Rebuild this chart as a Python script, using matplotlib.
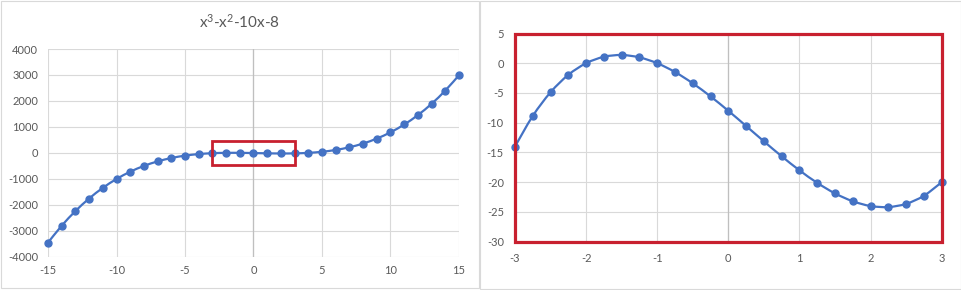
import matplotlib
matplotlib.use("Agg")
import matplotlib.pyplot as plt
import numpy as np
from matplotlib.path import Path
from matplotlib.patches import PathPatch, Rectangle

# data
x_wide = list(range(-15, 16))
y_wide = [-3458, -2808, -2244, -1760, -1350, -1008, -728, -504, -330, -200,
          -108, -48, -14, 0, 0, -8, -18, -24, -20, 0,
          42, 112, 216, 360, 550, 792, 1092, 1456, 1890, 2400, 2992]

x_zoom = [-3, -2.75, -2.5, -2.25, -2, -1.75, -1.5, -1.25, -1, -0.75, -0.5, -0.25,
          0, 0.25, 0.5, 0.75, 1, 1.25, 1.5, 1.75, 2, 2.25, 2.5, 2.75, 3]
y_zoom = [-14, -8.86, -4.88, -1.95, 0, 1.08, 1.38, 0.98, 0, -1.48, -3.38, -5.58,
          -8, -10.55, -13.13, -15.64, -18, -20.11, -21.88, -23.2, -24, -24.17,
          -23.63, -22.27, -20]

title = "x$^3$-x$^2$-10x-8"
box_x = [-3, 3]
box_y = [-450, 450]

blue = "#4472C4"
red = "#C8202F"
grid = "#D9D9D9"
txt = "#595959"

plt.rcParams['font.family'] = ['Lato', 'DejaVu Sans']
plt.rcParams['axes.unicode_minus'] = False
plt.rcParams['mathtext.default'] = 'regular'


def smooth_line(ax, xs, ys):
    #catmull-rom style bezier, like excel's smoothed line
    pts = np.column_stack([xs, ys]).astype(float)
    verts = [pts[0]]
    codes = [Path.MOVETO]
    t = 1 / 6
    for i in range(len(pts) - 1):
        p0 = pts[i - 1] if i > 0 else pts[i]
        p1 = pts[i]
        p2 = pts[i + 1]
        p3 = pts[i + 2] if i + 2 < len(pts) else pts[i + 1]
        c1 = p1 + (p2 - p0) * t
        c2 = p2 - (p3 - p1) * t
        verts += [c1, c2, p2]
        codes += [Path.CURVE4] * 3
    ax.add_patch(PathPatch(Path(verts, codes), fill=False, edgecolor=blue,
                           linewidth=1.6, zorder=3))
    ax.plot(xs, ys, linestyle='none', marker='o', markersize=5,
            color=blue, zorder=4, clip_on=False)


def style(ax):
    for s in ax.spines.values():
        s.set_visible(False)
    ax.grid(True, color=grid, linewidth=0.8)
    ax.set_axisbelow(True)
    ax.tick_params(length=0, labelsize=8, labelcolor=txt)
    ax.axvline(0, color="#BFBFBF", linewidth=0.9, zorder=1)


fig = plt.figure(figsize=(9.62, 2.90), dpi=100)

# panel borders
fig.patches.append(Rectangle((1 / 962, 2 / 290), 478 / 962, 287 / 290,
                             transform=fig.transFigure, fill=False,
                             edgecolor=grid, linewidth=0.8))
fig.patches.append(Rectangle((480 / 962, 1 / 290), 481 / 962, 288 / 290,
                             transform=fig.transFigure, fill=False,
                             edgecolor=grid, linewidth=0.8))

# left: full range
ax1 = fig.add_axes([48 / 962, 1 - 256.7 / 290, 411 / 962, 207.7 / 290])
style(ax1)
ax1.set_xlim(-15, 15)
ax1.set_ylim(-4000, 4000)
ax1.set_xticks(range(-15, 16, 5))
ax1.set_yticks(range(-4000, 4001, 1000))
ax1.tick_params(axis='y', pad=7)
ax1.tick_params(axis='x', pad=6)
smooth_line(ax1, x_wide, y_wide)
ax1.add_patch(Rectangle((box_x[0], box_y[0]), box_x[1] - box_x[0],
                        box_y[1] - box_y[0], fill=False, edgecolor=red,
                        linewidth=2.0, zorder=5))
fig.text(240 / 962, 1 - 22 / 290, title, ha='center', va='center',
         fontsize=11, color=txt)

# right: zoomed in
ax2 = fig.add_axes([515 / 962, 1 - 241.7 / 290, 426.7 / 962, 208.2 / 290])
style(ax2)
ax2.set_xlim(-3, 3)
ax2.set_ylim(-30, 5)
ax2.set_xticks(range(-3, 4))
ax2.set_yticks(range(-30, 6, 5))
ax2.tick_params(axis='y', pad=8)
ax2.tick_params(axis='x', pad=8)
smooth_line(ax2, x_zoom, y_zoom)
ax2.add_patch(Rectangle((0, 0), 1, 1, transform=ax2.transAxes, fill=False,
                        edgecolor=red, linewidth=2.3, zorder=5, clip_on=False))

fig.savefig("out.png", dpi=100)
